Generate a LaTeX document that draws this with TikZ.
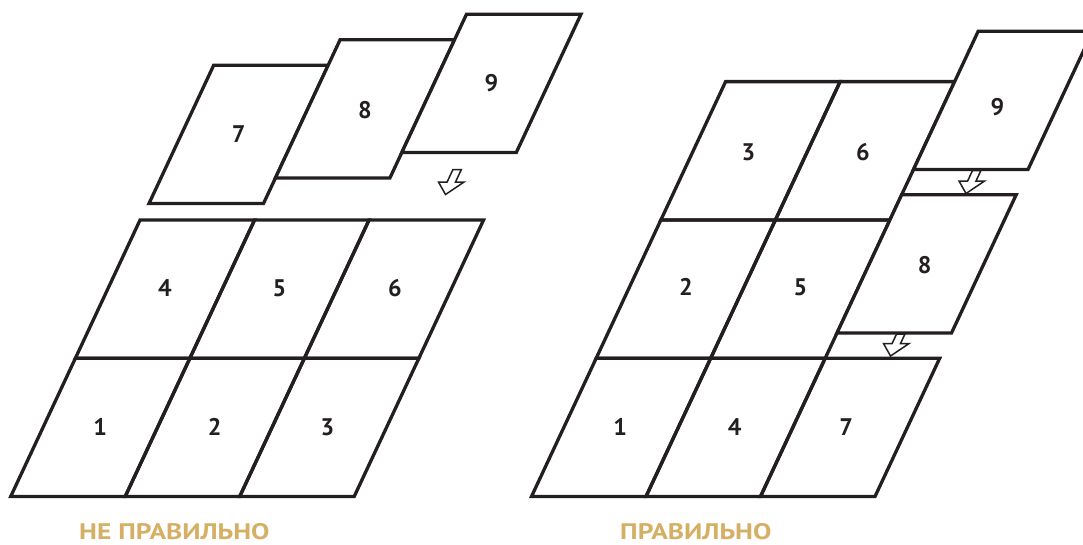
\documentclass[tikz,border=0pt]{standalone}
\usepackage{graphicx}
\usepackage{fontspec}
\setmainfont{PT Sans}
\definecolor{ink}{HTML}{231F20}
\definecolor{gold}{HTML}{D5AF64}
\def\cellW{114.5}
\def\cellH{138.3}
\def\cellD{64.7}
\newcommand\para[2]{(#1,#2) -- ++(\cellW,0) -- ++(\cellD,-\cellH) -- ++(-\cellW,0) -- cycle}
\newcommand\hollowarrow[3]{%
  \draw[arr] (#1,#2) -- ++(18.6,-12.5) -- ++(-8.6,0) -- ++({(#3-12.5)*0.468},{-(#3-12.5)}) -- ++(-8.4,0)
    -- ++({-(#3-12.5)*0.468},{#3-12.5}) -- ++(-8.6,0) -- cycle;}
\newcommand\wide[1]{\scalebox{1.22}[1]{#1}}
\tikzset{
  grid/.style={draw=ink, line width=3.3pt, line join=miter},
  card/.style={draw=ink, fill=white, line width=3.3pt, line join=miter},
  arr/.style={draw=ink, fill=white, line width=1.5pt, line join=miter},
  num/.style={text=ink, font=\bfseries\fontsize{24}{26}\selectfont, inner sep=0pt},
  caption/.style={text=gold, font=\bfseries\fontsize{22.5}{24}\selectfont, inner sep=0pt, text depth=0pt, anchor=base west}
}
\begin{document}
\begin{tikzpicture}[x=1pt,y=-1pt]
\useasboundingbox (0,0) rectangle (1083,544);
\clip (0,0) rectangle (1083,544);
% ---------- left: wrong ----------
\foreach \bx in {10.7,125.2,239.7} {\path[grid] \para{\bx}{496.5};}
\foreach \bx in {75.4,189.9,304.4} {\path[grid] \para{\bx}{358.2};}
\path[card] \para{149}{203.5};
\path[card] \para{275.4}{178};
\path[card] \para{401.8}{152.5};
\node[num] (a1) at (100.3,427.4) {1};
\node[num] (a2) at (214.8,427.4) {2};
\node[num] (a3) at (327.3,427.4) {3};
\node[num] (a4) at (165.0,288.0) {4};
\node[num] (a5) at (279.5,288.0) {5};
\node[num] (a6) at (395.0,288.0) {6};
\node[num] (a7) at (238.6,134.4) {7};
\node[num] (a8) at (365.0,109.9) {8};
\node[num] (a9) at (491.4,83.4) {9};
\hollowarrow{445.5}{194.5}{25}
% ---------- right: correct ----------
\foreach \bx in {531.5,646,760.5} {\path[grid] \para{\bx}{496.5};}
\foreach \bx in {596.2,710.7} {\path[grid] \para{\bx}{358.2};}
\foreach \bx in {660.9,775.4} {\path[grid] \para{\bx}{219.9};}
\path[card] \para{837}{333};
\path[card] \para{913.5}{169.5};
\node[num] (b1) at (620.1,427.4) {1};
\node[num] (b4) at (734.6,427.4) {4};
\node[num] (b7) at (846.1,427.4) {7};
\node[num] (b2) at (685.8,287.0) {2};
\node[num] (b5) at (800.3,287.0) {5};
\node[num] (b3) at (748.5,151.8) {3};
\node[num] (b6) at (863.0,151.8) {6};
\node[num] (b8) at (924.6,264.9) {8};
\node[num] (b9) at (997.5,107) {9};
\hollowarrow{966}{193.5}{23}
\hollowarrow{890.5}{356}{22}
% ---------- captions ----------
\node[caption] (wrong) at (79,539) {\wide{НЕ ПРАВИЛЬНО}};
\node[caption] (right) at (620,539) {\wide{ПРАВИЛЬНО}};
\end{tikzpicture}
\end{document}
